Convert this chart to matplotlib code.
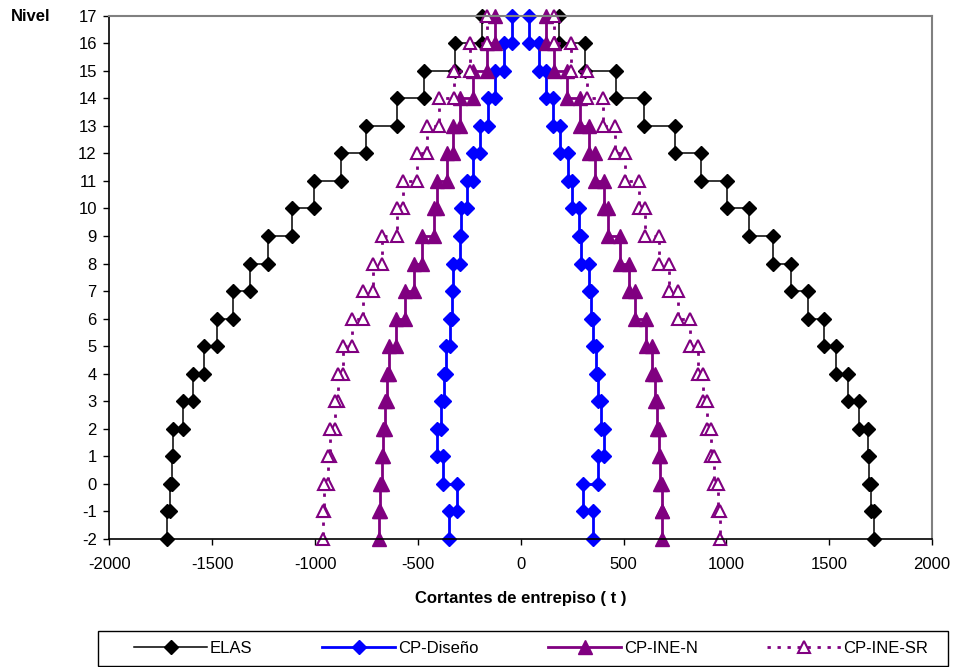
import numpy as np
import matplotlib
matplotlib.use("Agg")
import matplotlib.pyplot as plt
from matplotlib.patches import Rectangle

plt.rcParams["font.family"] = ["Liberation Sans", "DejaVu Sans"]
plt.rcParams["axes.unicode_minus"] = False

# storeys from level 17 (top) down to level -1; each storey spans (s-1, s)
stories = list(range(17, -2, -1))

elas_neg = [-189, -319, -469, -602, -753, -874, -1003, -1110, -1227, -1316,
            -1397, -1478, -1539, -1591, -1643, -1689, -1694, -1705, -1722]
elas_pos = [184, 314, 463, 599, 751, 876, 1003, 1108, 1225, 1314,
            1395, 1473, 1535, 1589, 1643, 1687, 1693, 1703, 1719]

dis_neg = [-43, -83, -124, -161, -197, -230, -259, -288, -296, -327,
           -335, -346, -362, -375, -387, -405, -378, -310, -351]
dis_pos = [41, 87, 123, 155, 192, 230, 249, 281, 291, 330,
           340, 352, 365, 377, 389, 403, 378, 305, 351]

inen_neg = [-124, -164, -230, -294, -327, -359, -408, -421, -479, -521,
            -562, -606, -640, -652, -659, -669, -676, -683, -691]
inen_pos = [123, 164, 225, 289, 330, 362, 403, 426, 484, 528,
            557, 610, 638, 654, 662, 670, 675, 687, 688]

insr_neg = [-162, -249, -323, -395, -456, -505, -573, -603, -675, -719,
            -765, -821, -862, -886, -902, -927, -939, -956, -962]
insr_pos = [160, 246, 322, 398, 456, 505, 573, 603, 670, 719,
            763, 824, 860, 888, 905, 927, 941, 957, 967]

series_names = ["ELAS", "CP-Diseño", "CP-INE-N", "CP-INE-SR"]


def step_path(shears):
    # each storey shear is constant between its lower and upper level
    xs, ys = [], []
    for s, v in zip(stories, shears):
        xs += [v, v]
        ys += [s, s - 1]
    return xs, ys


styles = [
    dict(color="black", lw=1.1, marker="D", ms=6.8, mfc="black", mec="black"),
    dict(color="#0000ff", lw=2.0, marker="D", ms=6.8, mfc="#0000ff", mec="#0000ff"),
    dict(color="#800080", lw=2.0, marker="^", ms=10, mfc="#800080", mec="#800080"),
    dict(color="#800080", lw=2.0, ls=(0, (1.2, 2.4)), marker="^", ms=8.5,
         mfc="white", mec="#800080", mew=1.5),
]

fig = plt.figure(figsize=(9.59, 6.67), dpi=100)
ax = fig.add_axes([0.114, 0.192, 0.858, 0.7845])

data = [(elas_neg, elas_pos), (dis_neg, dis_pos), (inen_neg, inen_pos), (insr_neg, insr_pos)]
handles = []
for name, (neg, pos), st in zip(series_names, data, styles):
    for side in (neg, pos):
        x, y = step_path(side)
        ln, = ax.plot(x, y, clip_on=False, **st)
    ln.set_label(name)
    handles.append(ln)

ax.set_xlim(-2000, 2000)
ax.set_ylim(-2, 17)
ax.set_xticks(np.arange(-2000, 2001, 500))
ax.set_yticks(np.arange(-2, 18, 1))
ax.tick_params(axis="both", direction="out", length=4, width=1, labelsize=12)
ax.tick_params(axis="x", pad=9)
ax.tick_params(axis="y", pad=5)
for side in ("top", "right"):
    ax.spines[side].set_color("#808080")
    ax.spines[side].set_linewidth(1.5)
for side in ("left", "bottom"):
    ax.spines[side].set_color("black")
    ax.spines[side].set_linewidth(1.2)

ax.set_xlabel("Cortantes de entrepiso ( t )", fontsize=12, fontweight="bold", labelpad=14)
fig.text(0.011, 0.975, "Nivel", fontsize=12, fontweight="bold", va="center", ha="left")

# legend box drawn separately so the entries can sit inset from it
fig.patches.append(Rectangle((98 / 959, 1 / 667), 850 / 959, 35 / 667,
                             transform=fig.transFigure, fill=False,
                             edgecolor="black", lw=1.0))
leg = fig.legend(handles=handles, ncol=4, loc="center",
                 bbox_to_anchor=(134 / 959, 1 / 667, 794 / 959, 35 / 667), mode="expand",
                 borderaxespad=0, borderpad=0, fontsize=12, numpoints=1,
                 handlelength=4.4, handletextpad=0.15, frameon=False)

fig.savefig("out.png", dpi=100)
